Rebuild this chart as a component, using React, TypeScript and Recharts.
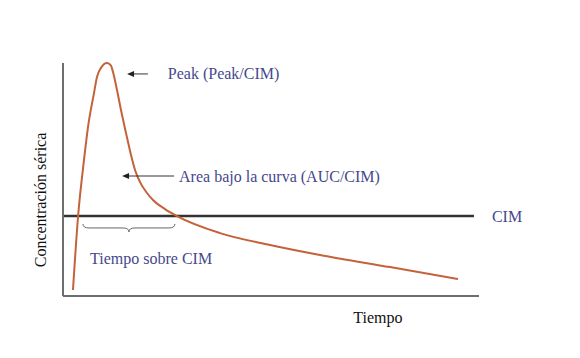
import { LineChart, Line, XAxis, YAxis, ReferenceLine, ReferenceDot } from "recharts";

// curve (time units, concentration in % of peak)
const tiempo = [2.4, 3.61, 5.05, 6.01, 7.45, 8.17, 9.13, 10.58, 11.54, 12.02, 12.98, 13.94, 15.14, 16.35, 17.31, 18.51, 20.19, 21.63, 24.52, 27.4, 37.74, 49.76, 61.78, 78.61, 94.95];
const concentracion = [2.6, 33.9, 58.4, 72.5, 87.1, 94.0, 97.9, 100, 98.9, 96.1, 88.4, 79.8, 70.0, 60.5, 54.1, 48.9, 44.2, 41.2, 37.3, 34.3, 27.0, 21.9, 17.6, 12.4, 7.3];
const cim = 34.3;
const cimEnd = 98.8;

const data = tiempo.map((t, i) => ({ t, c: concentracion[i] }));

const serif = "'Liberation Serif', 'Times New Roman', serif";
const ink = "#45488c";

const Arrow = (p: any) => {
  const { x1, y1, x2, y2 } = p;
  return (
    <g>
      <line x1={x1} y1={y1} x2={x2 + 5} y2={y2} stroke="#333" strokeWidth={1} />
      <polygon points={`${x2},${y2} ${x2 + 7},${y2 - 3} ${x2 + 7},${y2 + 3}`} fill="#222" />
    </g>
  );
};

const Brace = (p: any) => {
  const { x1, y1, x2 } = p;
  const y = y1;
  const m = (x1 + x2) / 2;
  return (
    <path
      d={`M${x1},${y - 4} Q${x1},${y} ${x1 + 6},${y} L${m - 6},${y} Q${m},${y} ${m},${y + 4} Q${m},${y} ${m + 6},${y} L${x2 - 6},${y} Q${x2},${y} ${x2},${y - 4}`}
      fill="none"
      stroke="#666"
      strokeWidth={1}
    />
  );
};

const label = (text: string, color: string, anchor = "start", rotate = false) => (p: any) => (
  <text
    x={p.cx}
    y={p.cy}
    fill={color}
    style={{ fontFamily: serif, fontSize: 16 }}
    textAnchor={anchor}
    dominantBaseline="central"
    transform={rotate ? `rotate(-90 ${p.cx} ${p.cy})` : undefined}
  >
    {text}
  </text>
);

export default function App() {
  return (
    <div style={{ position: "absolute", left: 0, top: 0, background: "#fff" }}>
      <LineChart width={580} height={358} data={data} margin={{ top: 63, right: 101, bottom: 61, left: 62 }}>
        <XAxis dataKey="t" type="number" domain={[0, 100]} height={1} tick={false} tickLine={false} axisLine={{ stroke: "#6e6e6e", strokeWidth: 2 }} />
        <YAxis type="number" domain={[0, 100]} width={1} tick={false} tickLine={false} axisLine={{ stroke: "#6e6e6e", strokeWidth: 2 }} />
        <ReferenceLine segment={[{ x: 0, y: cim }, { x: cimEnd, y: cim }]} stroke="#333" strokeWidth={2.5} />
        <Line dataKey="c" type="monotone" stroke="#c4623a" strokeWidth={2} dot={false} isAnimationActive={false} />
        <ReferenceLine segment={[{ x: 20.4, y: 95.3 }, { x: 15.4, y: 95.3 }]} shape={Arrow} />
        <ReferenceLine segment={[{ x: 26.7, y: 51.5 }, { x: 14.2, y: 51.5 }]} shape={Arrow} />
        <ReferenceLine segment={[{ x: 4.8, y: 29.2 }, { x: 26.9, y: 29.2 }]} shape={Brace} />
        <ReferenceDot x={25.2} y={95.7} ifOverflow="visible" shape={label("Peak (Peak/CIM)", ink)} />
        <ReferenceDot x={27.9} y={51.5} ifOverflow="visible" shape={label("Area bajo la curva (AUC/CIM)", ink)} />
        <ReferenceDot x={103.1} y={cim} ifOverflow="visible" shape={label("CIM", ink)} />
        <ReferenceDot x={6.5} y={16.3} ifOverflow="visible" shape={label("Tiempo sobre CIM", ink)} />
        <ReferenceDot x={75.7} y={-9.4} ifOverflow="visible" shape={label("Tiempo", "#111", "middle")} />
        <ReferenceDot x={-5.5} y={41.2} ifOverflow="visible" shape={label("Concentración sérica", "#111", "middle", true)} />
      </LineChart>
    </div>
  );
}
